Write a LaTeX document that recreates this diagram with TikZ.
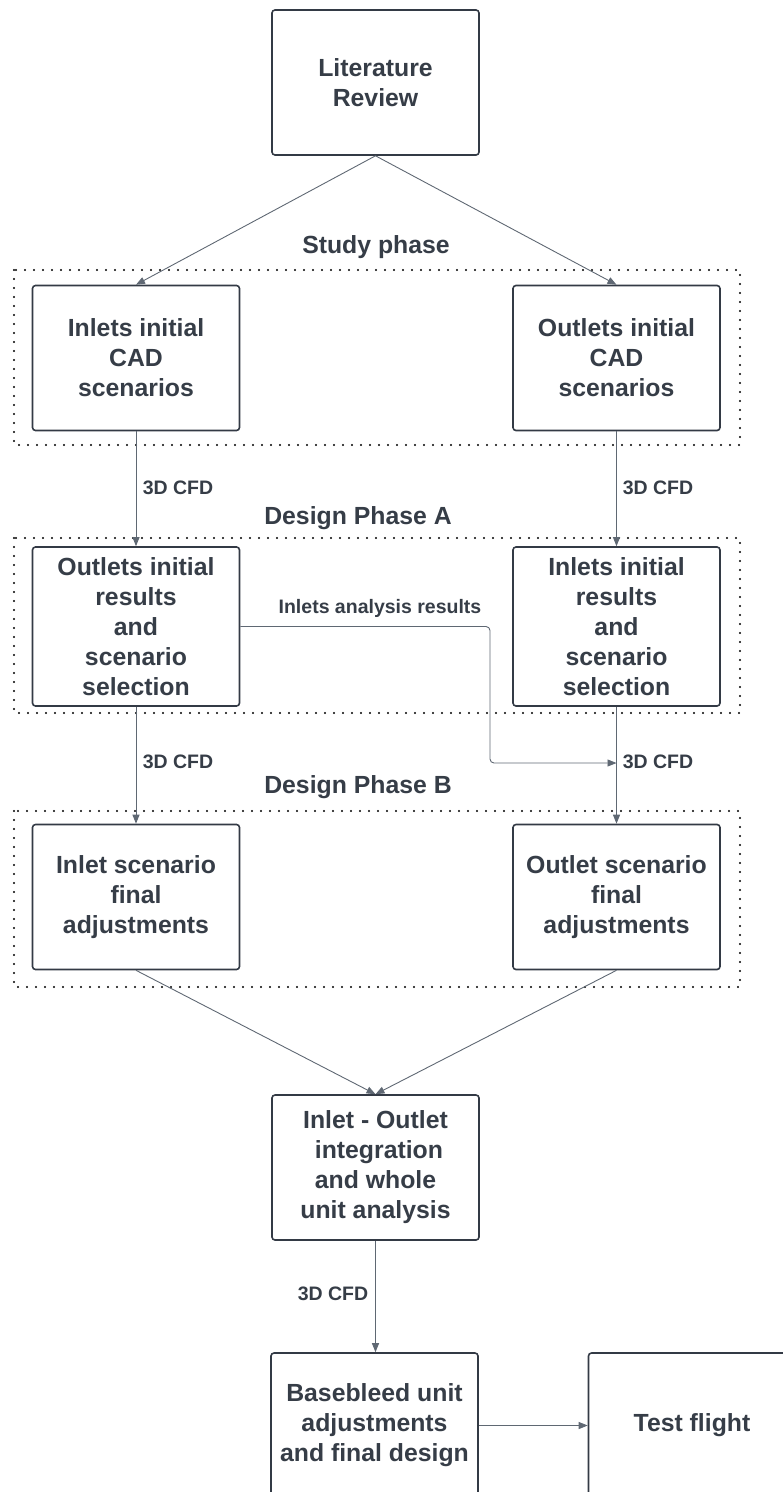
\documentclass[tikz,border=0pt]{standalone}
\usepackage{fontspec}
\setmainfont{Liberation Sans}
\usetikzlibrary{arrows.meta}
\definecolor{ink}{HTML}{363D47}
\definecolor{edge}{HTML}{333A45}
\definecolor{wire}{HTML}{5F6873}

\begin{document}
\begin{tikzpicture}[x=1pt,y=-1pt,
  stepbox/.style={draw=edge, line width=1.6pt, rounded corners=3pt,
    minimum width=207pt, minimum height=145pt, align=center,
    font=\fontsize{24.8}{30}\selectfont\bfseries, text=ink, inner sep=0pt},
  phase/.style={font=\fontsize{24.8}{30}\selectfont\bfseries, text=ink, inner sep=0pt},
  tag/.style={font=\fontsize{19.5}{23}\selectfont\bfseries, text=ink, inner sep=0pt},
  flow/.style={draw=wire, line width=0.9pt, -{Triangle[length=9pt,width=7pt]}},
  group/.style={draw=black, line width=2.1pt, dash pattern=on 0pt off 9pt, line cap=round}
]
\clip (0,0) rectangle (783,1492);

% phase frames
\draw[group] (14,270) rectangle (740,445);
\draw[group] (14,538) rectangle (740,713);
\draw[group] (14,811) rectangle (740,987);

% process steps
\node[stepbox] (lit) at (375.5,82.5) {Literature\\Review};
\node[stepbox] (inCAD) at (136,358) {Inlets initial\\CAD\\scenarios};
\node[stepbox] (outCAD) at (616.5,358) {Outlets initial\\CAD\\scenarios};
\node[stepbox, minimum height=159pt] (outRes) at (136,626.5) {Outlets initial\\results\\and\\scenario\\selection};
\node[stepbox, minimum height=159pt] (inRes) at (616.5,626.5) {Inlets initial\\results\\and\\scenario\\selection};
\node[stepbox] (inFin) at (136,897) {Inlet scenario\\final\\adjustments};
\node[stepbox] (outFin) at (616.5,897) {Outlet scenario\\final\\adjustments};
\node[stepbox] (integ) at (375.5,1167.5) {Inlet - Outlet\\\ integration\\and whole\\unit analysis};
\node[stepbox] (base) at (374.5,1425.5) {Basebleed unit\\adjustments\\and final design};
\node[stepbox] (test) at (692,1425.5) {Test flight};

% phase titles
\node[phase] (tStudy) at (376,247) {Study phase};
\node[phase] (tA) at (358,518) {Design Phase A};
\node[phase] (tB) at (358,787) {Design Phase B};

% connectors
\draw[flow] (lit.south) -- (inCAD.north);
\draw[flow] (lit.south) -- (outCAD.north);
\draw[flow] (inCAD.south) -- (outRes.north);
\draw[flow] (outCAD.south) -- (inRes.north);
\draw[flow] (outRes.south) -- (inFin.north);
\draw[flow] (inRes.south) -- (outFin.north);
\coordinate (merge) at (616.5,763);
\draw[flow, rounded corners=4pt] (outRes.east) -- (490,626.5) -- (490,763) -- (merge);
\draw[flow] (inFin.south) -- (integ.north);
\draw[flow] (outFin.south) -- (integ.north);
\draw[flow] (integ.south) -- (integ.south |- base.north);
\draw[flow] (base.east) -- (test.west);

% connector labels
\node[tag] (l1) at (178,488) {3D CFD};
\node[tag] (l2) at (658,488) {3D CFD};
\node[tag] (l3) at (380,608) {Inlets analysis results};
\node[tag] (l4) at (178,762) {3D CFD};
\node[tag] (l5) at (658,762) {3D CFD};
\node[tag] (l6) at (333,1294) {3D CFD};
\end{tikzpicture}
\end{document}
